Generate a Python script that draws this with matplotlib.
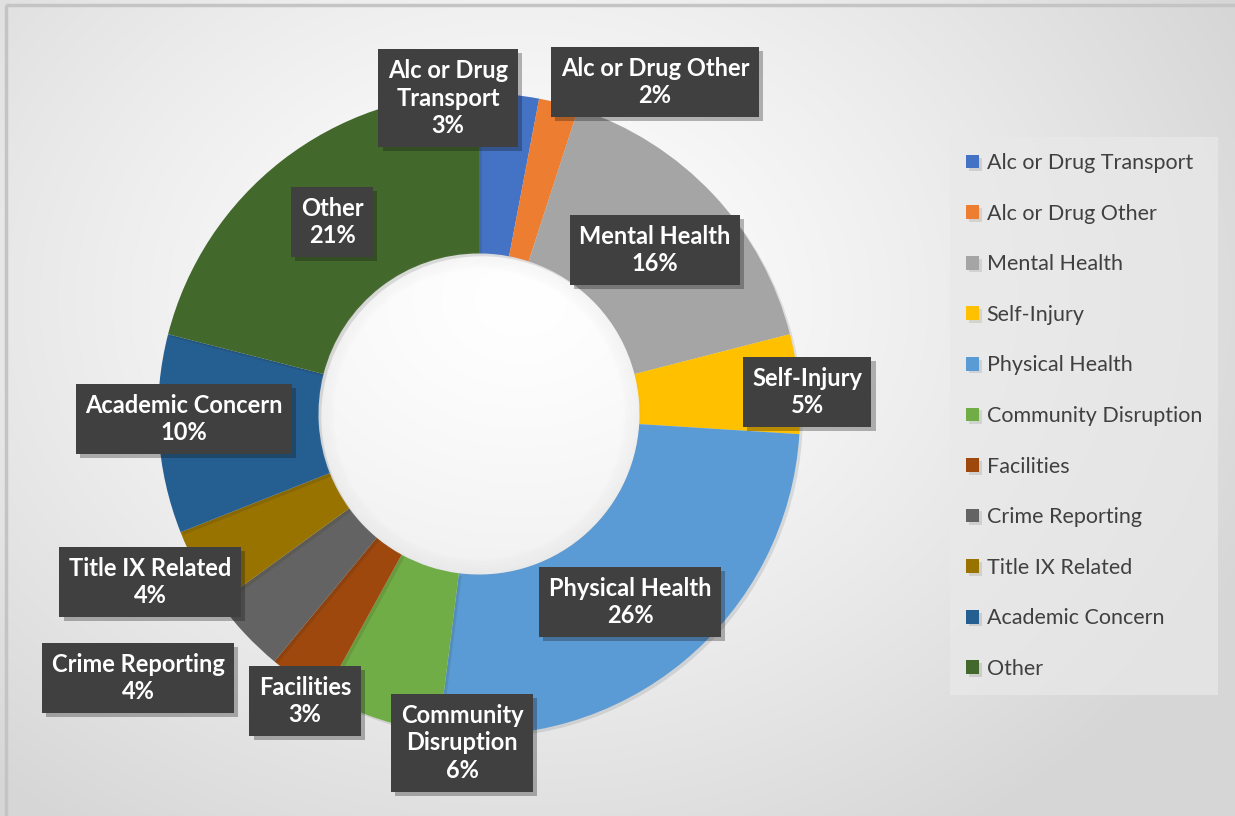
import numpy as np
import matplotlib
matplotlib.use("Agg")
import matplotlib.pyplot as plt
import matplotlib.patheffects as pe
from matplotlib.patches import Rectangle, Circle

# Data
categories = ["Alc or Drug Transport", "Alc or Drug Other", "Mental Health", "Self-Injury",
              "Physical Health", "Community Disruption", "Facilities", "Crime Reporting",
              "Title IX Related", "Academic Concern", "Other"]
label_names = ["Alc or Drug\nTransport", "Alc or Drug Other", "Mental Health", "Self-Injury",
               "Physical Health", "Community\nDisruption", "Facilities", "Crime Reporting",
               "Title IX Related", "Academic Concern", "Other"]
percents = [3, 2, 16, 5, 26, 6, 3, 4, 4, 10, 21]
colors = ["#4472C4", "#ED7D31", "#A5A5A5", "#FFC000", "#5B9BD5", "#70AD47",
          "#9E480E", "#636363", "#997300", "#255E91", "#43682B"]

# label box centres in pixels (layout only)
label_px = [(448, 98), (655, 82), (655, 250), (807, 392), (630, 602), (462, 743),
            (305, 701), (138, 678), (150, 582), (184, 419), (332, 222)]

W, H = 1235, 816
cx, cy, R = 479, 414, 321

fig = plt.figure(figsize=(W / 100, H / 100), dpi=100)

# background gradient
bg = fig.add_axes([0, 0, 1, 1])
yy, xx = np.mgrid[0:H, 0:W]
d = np.sqrt((xx - 520) ** 2 + ((yy - 300) * 1.25) ** 2)
shade = 1.0 - 0.16 * np.clip(d / 800, 0, 1) ** 1.3
bg.imshow(np.dstack([shade] * 3), extent=[0, W, H, 0], aspect="auto")
bg.set_xlim(0, W)
bg.set_ylim(H, 0)
bg.axis("off")
bg.add_patch(Rectangle((6, 5), W + 10, H + 10, fill=False, edgecolor="#c4c4c4", lw=2.5))

ax = fig.add_axes([0, 0, 1, 1])
ax.patch.set_alpha(0)

wedges, _ = ax.pie(percents, colors=colors, startangle=90, counterclock=False, radius=1,
                   wedgeprops=dict(width=0.5, edgecolor="none"))
for w in wedges:
    w.set_path_effects([pe.SimplePatchShadow(offset=(2, -2), alpha=0.12), pe.Normal()])

ax.set_aspect("auto")
ax.set_xlim(-cx / R, (W - cx) / R)
ax.set_ylim(-(H - cy) / R, cy / R)
ax.axis("off")

# soft rim inside the hole
for i in range(10):
    ax.add_patch(Circle((0, 0), 0.5 - i * 0.005, facecolor="none",
                        edgecolor="#9a9a9a", lw=2.0, alpha=0.05 - i * 0.0045, zorder=3))

for name, p, (px, py) in zip(label_names, percents, label_px):
    t = ax.text((px - cx) / R, (cy - py) / R, f"{name}\n{p}%", ha="center", va="center",
                color="white", fontsize=17, fontweight="bold", family="Lato",
                linespacing=1.25, zorder=5,
                bbox=dict(boxstyle="square,pad=0.4", facecolor="#404040", edgecolor="none"))
    t.get_bbox_patch().set_path_effects([pe.SimplePatchShadow(offset=(3, -3), alpha=0.3),
                                         pe.Normal()])

leg = fig.legend(wedges, categories, loc="upper left",
                 bbox_to_anchor=(950 / W, 1 - 137 / H), frameon=True, fancybox=False,
                 prop=dict(family="Lato", size=15.5), labelcolor="#404040",
                 handlelength=0.6, handleheight=0.6, handletextpad=0.35,
                 labelspacing=1.42, borderpad=0.75, borderaxespad=0)
leg.get_frame().set_facecolor("#e9e9e9")
leg.get_frame().set_edgecolor("none")
leg.get_frame().set_alpha(0.7)

fig.savefig("out.png", dpi=100)
